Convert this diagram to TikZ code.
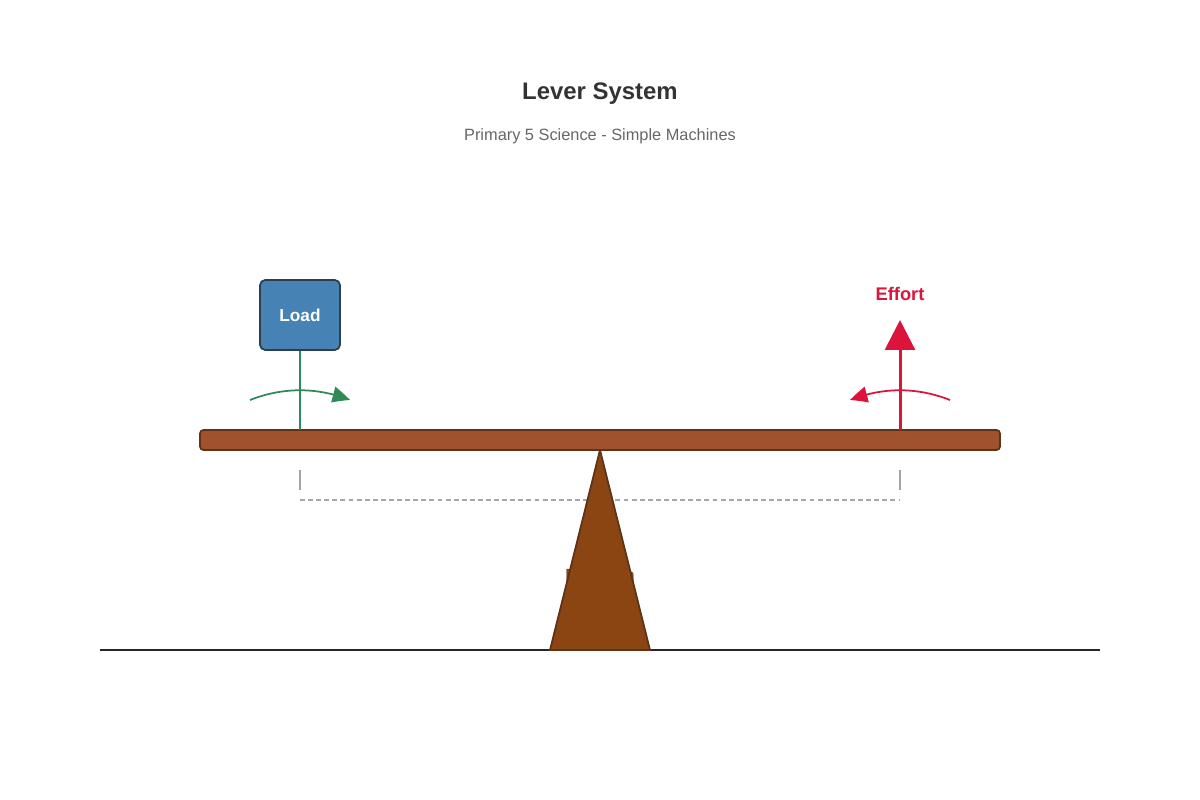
\documentclass[tikz,border=0pt]{standalone}
\usepackage{fontspec}
\setmainfont{Liberation Sans}
\usetikzlibrary{arrows.meta,bending}
\definecolor{beam}{HTML}{A0522D}
\definecolor{beamline}{HTML}{5C3317}
\definecolor{wedge}{HTML}{8B4513}
\definecolor{loadblue}{HTML}{4682B4}
\definecolor{loadline}{HTML}{2C3E50}
\definecolor{loadgreen}{HTML}{2E8B57}
\definecolor{effortred}{HTML}{DC143C}
\tikzset{
  tick/.style={gray!70,line width=0.3pt},
  moment/.style={line width=0.5pt,-{Triangle[length=5pt,width=4.5pt,bend]}},
}
\begin{document}
\begin{tikzpicture}[x=0.01cm,y=-0.01cm]
\useasboundingbox (0,0) rectangle (1200,800);
\node (title) at (600,94) {\fontsize{6.8}{8}\selectfont\bfseries\color{black!80}Lever System};
\node (sub) at (600,136) {\fontsize{4.65}{6}\selectfont\color{black!60}Primary 5 Science - Simple Machines};
% ground
\coordinate (gl) at (100,650);
\coordinate (gr) at (1100,650);
\draw [black!85,line width=0.5pt] (gl) -- (gr);
% distance marks
\coordinate (t1) at (300,470); \coordinate (t1b) at (300,490);
\coordinate (t2) at (900,470); \coordinate (t2b) at (900,490);
\coordinate (t3) at (600,470); \coordinate (t3b) at (600,490);
\draw [tick] (t1) -- (t1b);
\draw [tick] (t2) -- (t2b);
\draw [tick] (t3) -- (t3b);
\coordinate (dl) at (300,500); \coordinate (dr) at (900,500);
\draw [tick,dash pattern=on 1.4pt off 0.9pt] (dl) -- (dr);
% fulcrum
\node (fulcrumtext) at (600,575) {\fontsize{5}{6}\selectfont\bfseries\color{wedge}Fulcrum};
\draw [fill=wedge,draw=beamline,line width=0.5pt] (600,450) -- (650,650) -- (550,650) -- cycle;
% beam
\draw [fill=beam,draw=beamline,line width=0.5pt,rounded corners=1pt] (200,430) rectangle (1000,450);
% load
\node (load) [draw=loadline,fill=loadblue,line width=0.5pt,rounded corners=1.5pt,minimum width=0.8cm,minimum height=0.7cm] at (300,315) {\fontsize{4.9}{6}\selectfont\bfseries\color{white}Load};
\coordinate (lb) at (300,430);
\draw [loadgreen,line width=0.85pt] (load.south) -- (lb);
\coordinate (la) at (250,400); \coordinate (lz) at (350,400);
\draw [loadgreen,moment] (la) .. controls (283,387) and (317,387) .. (lz);
% effort
\node (effort) at (900,294) {\fontsize{5.2}{6}\selectfont\bfseries\color{effortred}Effort};
\coordinate (eb) at (900,430); \coordinate (et) at (900,320);
\draw [effortred,line width=0.85pt,-{Triangle[length=8.5pt,width=8.5pt]}] (eb) -- (et);
\coordinate (ea) at (950,400); \coordinate (ez) at (850,400);
\draw [effortred,moment] (ea) .. controls (917,387) and (883,387) .. (ez);
\end{tikzpicture}
\end{document}
